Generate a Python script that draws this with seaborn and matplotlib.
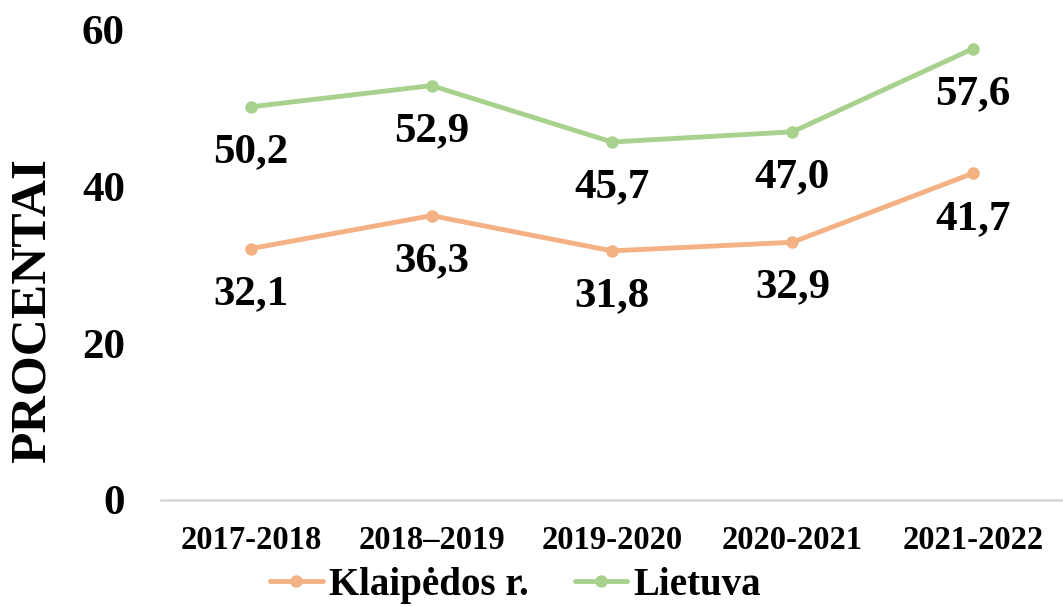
import numpy as np
import pandas as pd
import matplotlib.pyplot as plt
import seaborn as sns


YEARS = ['2017-2018', '2018–2019', '2019-2020', '2020-2021', '2021-2022']
KLAIPEDOS = [32.1, 36.3, 31.8, 32.9, 41.7]
LIETUVA = [50.2, 52.9, 45.7, 47.0, 57.6]
SERIES = ['Klaipėdos r.', 'Lietuva']
COLORS = ['#F4B183', '#A9D18E']
YTICKS = [0, 20, 40, 60]


sns.set_style('white')
plt.rcParams['font.family'] = ['Liberation Serif', 'DejaVu Serif']
plt.rcParams['font.weight'] = 'bold'
plt.rcParams['text.color'] = 'black'
plt.rcParams['xtick.color'] = 'black'
plt.rcParams['ytick.color'] = 'black'
plt.rcParams['axes.labelcolor'] = 'black'

df = pd.DataFrame({
	'metai': YEARS * 2,
	'procentai': KLAIPEDOS + LIETUVA,
	'serija': [SERIES[0]] * len(YEARS) + [SERIES[1]] * len(YEARS),
})

fig = plt.figure(figsize = (10.63, 6.06), dpi = 100)
ax = fig.add_axes([0.1515, 0.175, 0.8485, 0.7755])

sns.lineplot(data = df, x = 'metai', y = 'procentai', hue = 'serija', palette = COLORS,
	marker = 'o', markersize = 9, markeredgewidth = 0, linewidth = 3.5, sort = False, ax = ax)

# data labels below each point
for vals in (KLAIPEDOS, LIETUVA):
	for i, v in enumerate(vals):
		ax.annotate(('%.1f' % v).replace('.', ','), (i, v), xytext = (0, -19), textcoords = 'offset points',
			ha = 'center', va = 'top', fontsize = 31, fontweight = 'bold', color = 'black')

ax.set_xlim(-0.5, len(YEARS) - 0.5)
ax.set_ylim(0, 60)
ax.set_yticks(YTICKS)
ax.set_yticklabels([str(t) for t in YTICKS], fontsize = 31, fontweight = 'bold')
ax.set_xticks(range(len(YEARS)))
ax.set_xticklabels(YEARS, fontsize = 23.5, fontweight = 'bold')
ax.tick_params(axis = 'y', length = 0, pad = 26)
ax.tick_params(axis = 'x', length = 0, pad = 18)
ax.set_xlabel('')
ax.set_ylabel('PROCENTAI', fontsize = 37, fontweight = 'bold')
ax.yaxis.set_label_coords(-0.117, 0.404)

for s in ['left', 'right', 'top']:
	ax.spines[s].set_visible(False)
ax.spines['bottom'].set_color('#D9D9D9')
ax.spines['bottom'].set_linewidth(2)

handles, labels = ax.get_legend_handles_labels()
ax.get_legend().remove()
fig.legend(handles, labels, loc = 'center', bbox_to_anchor = (0.485, 0.034), ncol = 2, frameon = False,
	prop = {'size': 28, 'weight': 'bold'}, handlelength = 1.35, handletextpad = 0.15, columnspacing = 1.2,
	borderpad = 0.1)

fig.savefig('out.png', dpi = 100)
plt.close()
